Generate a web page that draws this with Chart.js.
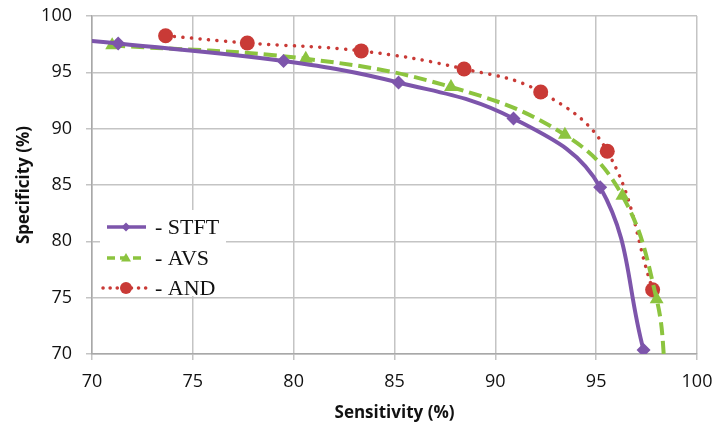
<!DOCTYPE html>
<html>
<head>
<meta charset="utf-8">
<script src="https://cdn.jsdelivr.net/npm/chart.js@4/dist/chart.umd.min.js"></script>
<style>
  html, body { margin: 0; padding: 0; background: #ffffff; }
  #wrap { width: 715px; height: 424px; position: relative; }
</style>
</head>
<body>
<div id="wrap"><canvas id="roc" width="715" height="424"></canvas></div>
<script>
// Sensitivity / specificity operating points for each method (%)
const seriesNames = ['- STFT', '- AVS', '- AND'];

const stftSensitivity = [68.0, 71.3, 79.5, 85.2, 90.9, 95.2, 97.35];
const stftSpecificity = [98.1, 97.55, 96.0, 94.1, 90.9, 84.8, 70.35];

const avsSensitivity = [71.0, 80.6, 87.8, 93.45, 96.3, 98.0, 98.45];
const avsSpecificity = [97.4, 96.2, 93.7, 89.45, 84.05, 74.85, 68.0];

const andSensitivity = [73.65, 77.7, 83.35, 88.45, 92.25, 95.55, 97.8];
const andSpecificity = [98.25, 97.6, 96.9, 95.3, 93.25, 88.0, 75.7];

const xTicks = [70, 75, 80, 85, 90, 95, 100];
const yTicks = [70, 75, 80, 85, 90, 95, 100];

const toPoints = (xs, ys) => xs.map((x, i) => ({ x: x, y: ys[i] }));

const PURPLE = '#7d55ab';
const GREEN = '#8cc43f';
const RED = '#c93a36';
const GRID = '#c4c4c4';

// Legend box drawn inside the plot area, lower left
const insideLegend = {
  id: 'insideLegend',
  afterDraw(chart) {
    const ctx = chart.ctx;
    const area = chart.chartArea;
    const bx = area.left + 8, by = 210, bw = 126, bh = 86;
    ctx.save();
    ctx.fillStyle = '#ffffff';
    ctx.fillRect(bx, by, bw, bh);
    const rows = [227, 258, 288];
    chart.data.datasets.forEach((ds, i) => {
      const y = rows[i];
      ctx.save();
      ctx.strokeStyle = ds.borderColor;
      ctx.lineWidth = 3.5;
      ctx.lineCap = i === 2 ? 'round' : 'butt';
      ctx.setLineDash(i === 0 ? [] : (i === 1 ? [8, 5] : [0.1, 7]));
      ctx.beginPath();
      ctx.moveTo(i === 2 ? 103 : 107, y);
      ctx.lineTo(146, y);
      ctx.stroke();
      ctx.setLineDash([]);
      ctx.fillStyle = ds.pointBackgroundColor;
      ctx.beginPath();
      const cx = 126;
      if (i === 0) {
        const r = 4.5;
        ctx.moveTo(cx, y - r); ctx.lineTo(cx + r, y); ctx.lineTo(cx, y + r); ctx.lineTo(cx - r, y);
      } else if (i === 1) {
        const r = 5;
        ctx.moveTo(cx, y - r); ctx.lineTo(cx + r, y + r * 0.7); ctx.lineTo(cx - r, y + r * 0.7);
      } else {
        ctx.arc(cx, y, 6, 0, Math.PI * 2);
      }
      ctx.closePath();
      ctx.fill();
      ctx.restore();
      ctx.fillStyle = '#111111';
      ctx.font = '22px "Liberation Serif", "Times New Roman", serif';
      ctx.textBaseline = 'middle';
      ctx.textAlign = 'left';
      ctx.fillText(seriesNames[i], 155, y + 1);
    });
    ctx.restore();
  }
};

const ctx = document.getElementById('roc').getContext('2d');
new Chart(ctx, {
  type: 'scatter',
  data: {
    datasets: [
      {
        label: seriesNames[0],
        data: toPoints(stftSensitivity, stftSpecificity),
        showLine: true,
        borderColor: PURPLE,
        backgroundColor: PURPLE,
        pointBackgroundColor: PURPLE,
        pointBorderColor: PURPLE,
        borderWidth: 4,
        pointStyle: 'rectRot',
        pointRadius: 7,
        pointBorderWidth: 0,
        tension: 0.4
      },
      {
        label: seriesNames[1],
        data: toPoints(avsSensitivity, avsSpecificity),
        showLine: true,
        borderColor: GREEN,
        backgroundColor: GREEN,
        pointBackgroundColor: GREEN,
        pointBorderColor: GREEN,
        borderWidth: 4,
        borderDash: [13, 6],
        pointStyle: 'triangle',
        pointRadius: [8, 8, 8, 8, 8, 8, 0],
        pointBorderWidth: 0,
        tension: 0.4
      },
      {
        label: seriesNames[2],
        data: toPoints(andSensitivity, andSpecificity),
        showLine: true,
        borderColor: RED,
        backgroundColor: RED,
        pointBackgroundColor: RED,
        pointBorderColor: RED,
        borderWidth: 3.5,
        borderDash: [0.1, 8.5],
        borderCapStyle: 'round',
        pointStyle: 'circle',
        pointRadius: 7.5,
        pointBorderWidth: 0,
        tension: 0.4
      }
    ]
  },
  options: {
    responsive: false,
    animation: false,
    devicePixelRatio: 1,
    layout: { padding: { top: 16, right: 18, left: 0, bottom: 0 } },
    plugins: {
      legend: { display: false },
      tooltip: { enabled: false }
    },
    scales: {
      x: {
        type: 'linear',
        min: 70,
        max: 100,
        afterBuildTicks(scale) { scale.ticks = xTicks.map(v => ({ value: v })); },
        afterFit(scale) {
          scale.height = 70;
          scale.paddingLeft = 8;
          scale.paddingRight = 8;
        },
        grid: { color: GRID, lineWidth: 1.5, tickLength: 6, drawTicks: true },
        border: { color: '#a8a8a8', width: 1.5 },
        ticks: {
          color: '#111111',
          padding: 11,
          font: { family: '"Open Sans", sans-serif', size: 18 },
          maxRotation: 0
        },
        title: {
          display: true,
          text: 'Sensitivity (%)',
          color: '#111111',
          font: { family: '"Open Sans", sans-serif', size: 17, weight: 'bold' },
          padding: { top: 0, bottom: 1 }
        }
      },
      y: {
        type: 'linear',
        min: 70,
        max: 100,
        afterBuildTicks(scale) { scale.ticks = yTicks.map(v => ({ value: v })); },
        afterFit(scale) {
          scale.width = 92;
          scale.paddingTop = 8;
          scale.paddingBottom = 8;
        },
        grid: { color: GRID, lineWidth: 1.5, tickLength: 6, drawTicks: true },
        border: { color: '#a8a8a8', width: 1.5 },
        ticks: {
          color: '#111111',
          padding: 14,
          font: { family: '"Open Sans", sans-serif', size: 18 }
        },
        title: {
          display: true,
          text: 'Specificity (%)',
          color: '#111111',
          font: { family: '"Open Sans", sans-serif', size: 17, weight: 'bold' },
          padding: { top: 14, bottom: 0 }
        }
      }
    }
  },
  plugins: [insideLegend]
});
</script>
</body>
</html>
